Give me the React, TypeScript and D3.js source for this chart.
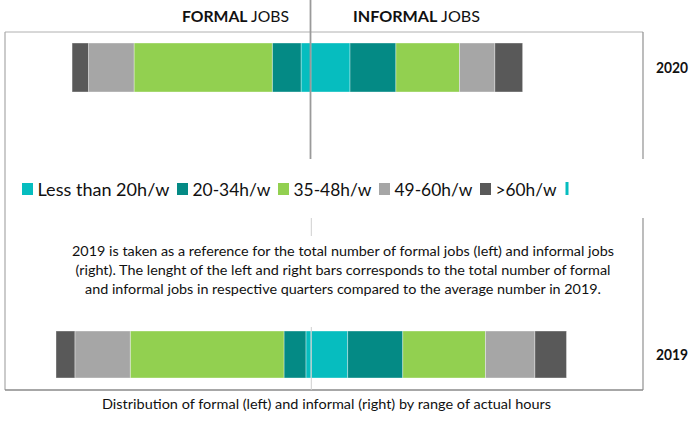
import * as d3 from "d3";

// hour ranges, shared by both charts
const categories = ["Less than 20h/w", "20-34h/w", "35-48h/w", "49-60h/w", ">60h/w"];
const colors = ["#06BDBF", "#048A85", "#92D050", "#A6A6A6", "#595959"];
const years = ["2020", "2019"];

// % of the 2019 average number of jobs, per hour range
const formal2020 = [3.9, 11.3, 54.2, 17.9, 6.4];
const informal2020 = [15.3, 18.0, 24.9, 13.9, 10.9];
const formal2019 = [2.0, 8.6, 60.3, 21.7, 7.4];
const informal2019 = [14.4, 21.6, 32.4, 19.4, 12.4];

const headerLabels = ["FORMAL", "INFORMAL"];
const noteLines = [
  "2019 is taken as a reference for the total number of formal jobs (left) and informal jobs",
  "(right). The lenght of the left and right bars corresponds to the total number of formal",
  "and informal jobs in respective quarters compared to the average number in 2019.",
];
const caption = "Distribution of formal (left) and informal (right) by range of actual hours";

const W = 693;
const H = 421;
const FONT = "Lato, 'Open Sans', sans-serif";

// zero sits in the middle, 100% of 2019 each way
const x = d3.scaleLinear().domain([-100, 100]).range([56, 566]);

// each year is its own little chart stacked on the page
const panels = [
  { year: years[0], formal: formal2020, informal: informal2020, y0: 43, y1: 92 },
  { year: years[1], formal: formal2019, informal: informal2019, y0: 331, y1: 378 },
];

function segments(values: number[], sign: number) {
  const ends = d3.cumsum(values);
  return values.map((v, i) => {
    const a = x(sign * (ends[i] - v));
    const b = x(sign * ends[i]);
    return { i, x0: Math.min(a, b), x1: Math.max(a, b) };
  });
}

function Bar({ p }: { p: (typeof panels)[number] }) {
  const segs = [...segments(p.formal, -1), ...segments(p.informal, 1)];
  return (
    <g>
      {segs.map((s, k) => (
        <rect
          key={k}
          x={s.x0}
          y={p.y0}
          width={s.x1 - s.x0}
          height={p.y1 - p.y0}
          fill={colors[s.i]}
          stroke="#fff"
          strokeOpacity={0.45}
          strokeWidth={0.8}
        />
      ))}
    </g>
  );
}

// legend widths of the label texts
const legendWidths = [132, 78, 78, 78, 61];

export default function App() {
  const zero = x(0);
  let lx = 22;
  const legend = categories.map((c, i) => {
    const item = { c, i, sx: lx, tx: lx + 15.5 };
    lx = item.tx + legendWidths[i] + 7.5;
    return item;
  });

  return (
    <svg
      width={W}
      height={H}
      style={{ position: "fixed", left: 0, top: 0, background: "#fff" }}
      fontFamily={FONT}
    >
      <rect width={W} height={H} fill="#fff" />

      {/* top chart frame */}
      <line x1={5} x2={643} y1={32} y2={32} stroke="#b0b0b0" strokeWidth={1} />
      <line x1={5} x2={5} y1={32} y2={390} stroke="#a8a8a8" strokeWidth={1.2} />
      <line x1={643} x2={643} y1={32} y2={159} stroke="#909090" strokeWidth={1.2} />
      {/* bottom chart frame */}
      <line x1={643} x2={643} y1={218} y2={390} stroke="#909090" strokeWidth={1.2} />
      <line x1={5} x2={643} y1={390} y2={390} stroke="#8a8a8a" strokeWidth={1.6} />

      {panels.map((p) => (
        <Bar key={p.year} p={p} />
      ))}

      {/* centre lines */}
      <line x1={zero - 0.5} x2={zero - 0.5} y1={0} y2={159} stroke="#9a9a9a" strokeWidth={1.8} />
      <line x1={zero + 0.3} x2={zero + 0.3} y1={218} y2={390} stroke="#cfcfcf" strokeWidth={1} />

      {/* headers */}
      {headerLabels.map((h, i) => (
        <text
          key={h}
          x={i === 0 ? 182 : 353}
          y={22}
          fontSize={15}
          fill="#111"
          textLength={i === 0 ? 107 : 127}
          lengthAdjust="spacingAndGlyphs"
        >
          <tspan fontWeight="bold">{h}</tspan>
          <tspan> JOBS</tspan>
        </text>
      ))}

      {/* year labels */}
      {panels.map((p) => (
        <text
          key={p.year}
          x={656}
          y={(p.y0 + p.y1) / 2 + 5.5}
          fontSize={16}
          fontWeight="bold"
          fill="#111"
          textLength={32}
          lengthAdjust="spacingAndGlyphs"
        >
          {p.year}
        </text>
      ))}

      {/* legend */}
      {legend.map((l) => (
        <g key={l.c}>
          <rect x={l.sx} y={183} width={11} height={12} fill={colors[l.i]} />
          <text
            x={l.tx}
            y={195.5}
            fontSize={18}
            fill="#111"
            textLength={legendWidths[l.i]}
            lengthAdjust="spacingAndGlyphs"
          >
            {l.c}
          </text>
        </g>
      ))}
      <rect x={lx + 1.5} y={182} width={3} height={13} fill={colors[0]} />

      {/* note box */}
      <rect x={20} y={236} width={610} height={91} fill="#fff" />
      {noteLines.map((t, i) => (
        <text
          key={i}
          x={343}
          y={255.5 + i * 19}
          fontSize={13.5}
          fill="#111"
          textAnchor="middle"
          textLength={[542, 535, 516][i]}
          lengthAdjust="spacingAndGlyphs"
        >
          {t}
        </text>
      ))}

      <text
        x={326.5}
        y={409}
        fontSize={13}
        fill="#111"
        textAnchor="middle"
        textLength={449}
        lengthAdjust="spacingAndGlyphs"
      >
        {caption}
      </text>
    </svg>
  );
}
